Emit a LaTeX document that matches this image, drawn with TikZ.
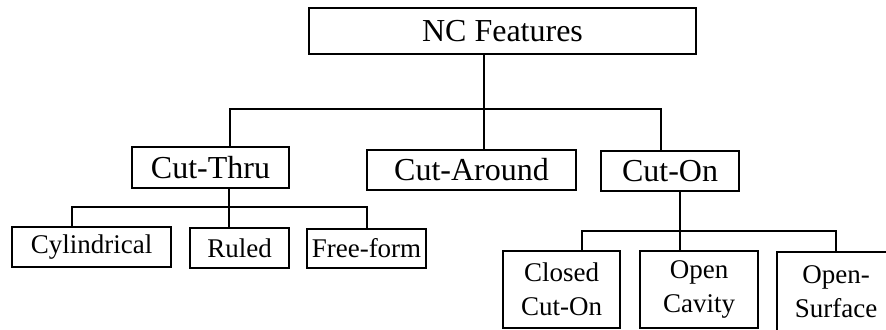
\documentclass[tikz,border=0pt]{standalone}
\usepackage{fontspec}
\setmainfont{Liberation Serif}
\usepackage{tikz}
\usetikzlibrary{positioning, calc}

\tikzset{
    featbox/.style={draw, line width=1pt, inner sep=0pt, align=center, font=\fontsize{16}{18}\selectfont},
    subbox/.style={draw, line width=1pt, inner sep=0pt, align=center, font=\fontsize{13.5}{17}\selectfont},
    link/.style={line width=1pt}
}

\begin{document}
\begin{tikzpicture}[x=0.5pt, y=-0.5pt]
    \clip (0,0) rectangle (886,330);
    \useasboundingbox (0,0) rectangle (886,330);

    % Top
    \node[featbox, minimum width=193.5pt, minimum height=23pt] (nc) at (502.5,31) {NC Features};

    % Main groups
    \node[featbox, minimum width=78.5pt, minimum height=20.5pt] (thru) at (210.5,167.5) {Cut-Thru};
    \node[featbox, minimum width=104.5pt, minimum height=20pt] (around) at (471.5,170) {Cut-Around};
    \node[featbox, minimum width=69pt, minimum height=20pt] (on) at (670,171) {Cut-On};

    % Cut-Thru kinds
    \node[subbox, minimum width=79.5pt, minimum height=20pt] (cyl) at (91.5,247) {Cylindrical};
    \node[subbox, minimum width=49.5pt, minimum height=20pt] (ruled) at (239.5,248) {Ruled};
    \node[subbox, minimum width=59.5pt, minimum height=19.5pt] (free) at (366.5,248.5) {Free-form};

    % Cut-On kinds
    \node[subbox, minimum width=58.5pt, minimum height=38.5pt] (closed) at (561.5,289.5) {Closed\\Cut-On};
    \node[subbox, minimum width=59pt, minimum height=38.5pt] (cavity) at (699,289.5) {Open\\Cavity};
    \node[subbox, minimum width=59pt, minimum height=40pt] (surface) at (836,292) {Open-\\Surface};

    % Junctions
    \coordinate (topbus) at (484,109);
    \coordinate (thrubus) at (229,207);
    \coordinate (onbus) at (680,231);

    % Connectors
    \draw[link] (topbus |- nc.south) -- (topbus |- around.north);
    \draw[link] (thru.north -| 230,0) |- (topbus) -| (on.north -| 661,0);

    \draw[link] (thrubus |- thru.south) -- (thrubus |- ruled.north);
    \draw[link] (cyl.north -| 72,0) |- (thrubus) -| (free.north -| 367,0);

    \draw[link] (onbus |- on.south) -- (onbus |- cavity.north);
    \draw[link] (closed.north -| 582,0) |- (onbus) -| (surface.north -| 836,0);
\end{tikzpicture}
\end{document}
